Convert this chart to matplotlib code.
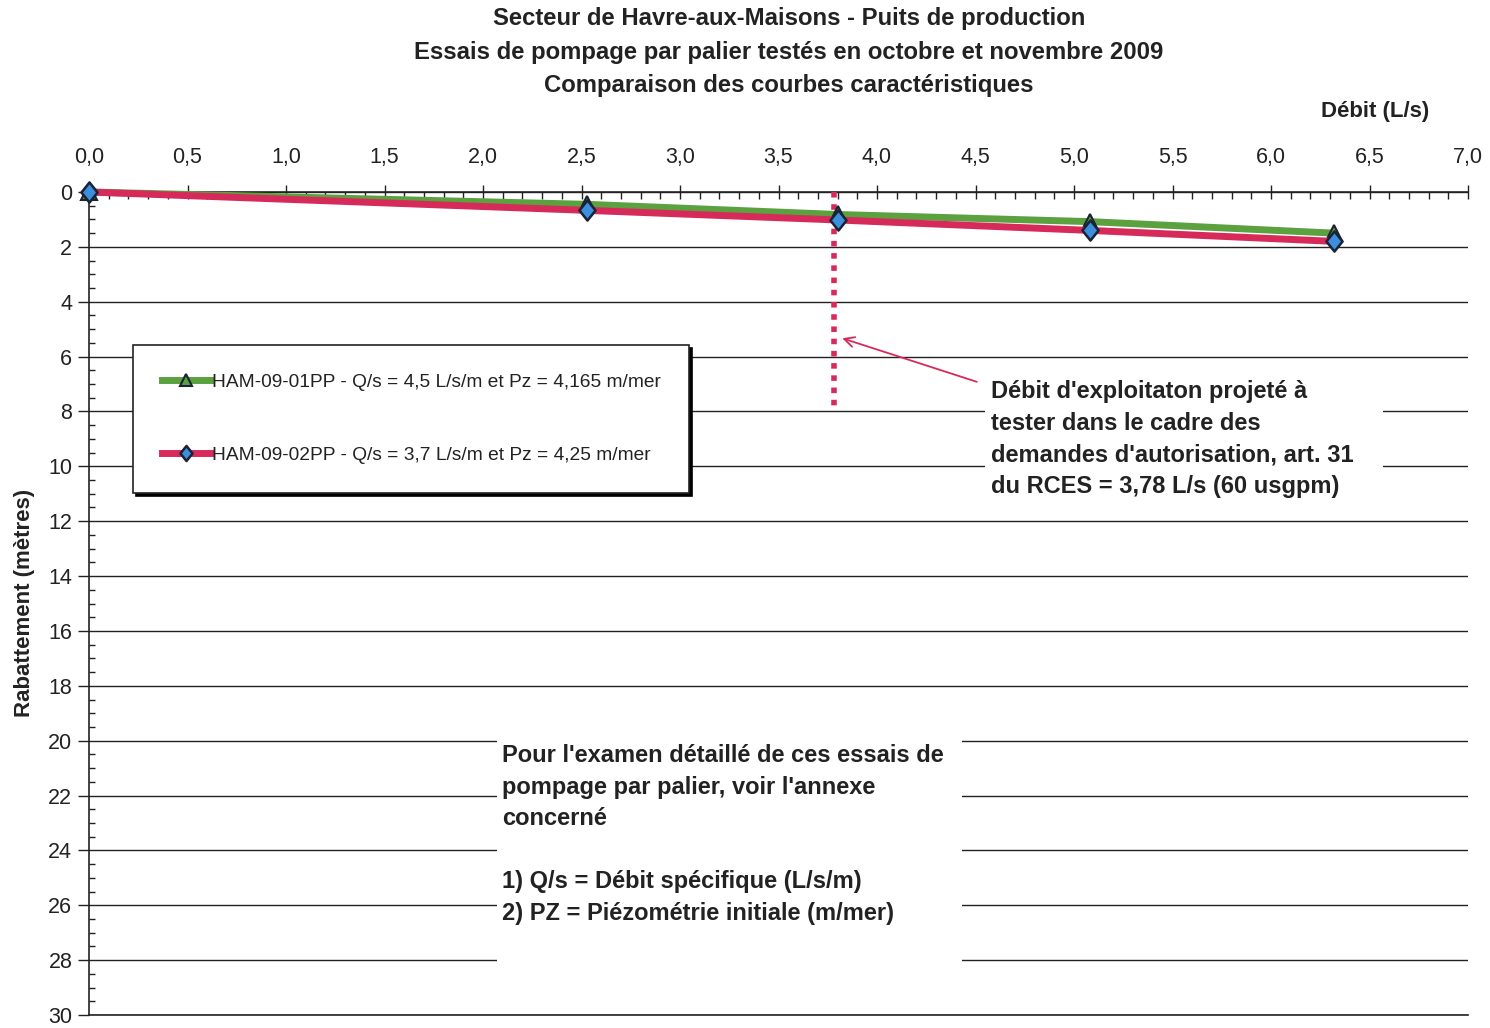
import matplotlib
matplotlib.use("Agg")
import matplotlib.pyplot as plt
from matplotlib.patches import Rectangle
from matplotlib.path import Path
from matplotlib.ticker import MultipleLocator, FuncFormatter

plt.rcParams['font.family'] = ['Liberation Sans', 'DejaVu Sans']

# Step-drawdown test results (discharge in L/s, drawdown in m)
debit_01 = [0.0, 2.53, 3.80, 5.08, 6.32]
rabattement_01 = [0.0, 0.45, 0.82, 1.08, 1.50]
debit_02 = [0.0, 2.53, 3.80, 5.08, 6.32]
rabattement_02 = [0.0, 0.67, 1.02, 1.40, 1.80]
label_01 = "HAM-09-01PP - Q/s = 4,5 L/s/m et Pz = 4,165 m/mer"
label_02 = "HAM-09-02PP - Q/s = 3,7 L/s/m et Pz = 4,25 m/mer"
debit_projete = 3.78
rabattement_repere = 8.0

titre = ("Secteur de Havre-aux-Maisons - Puits de production\n"
         "Essais de pompage par palier testés en octobre et novembre 2009\n"
         "Comparaison des courbes caractéristiques")
note_debit = ("Débit d'exploitaton projeté à\n"
              "tester dans le cadre des\n"
              "demandes d'autorisation, art. 31\n"
              "du RCES = 3,78 L/s (60 usgpm)")
note_annexe = ("Pour l'examen détaillé de ces essais de\n"
               "pompage par palier, voir l'annexe\n"
               "concerné\n"
               "\n"
               "1) Q/s = Débit spécifique (L/s/m)\n"
               "2) PZ = Piézométrie initiale (m/mer)")

GREEN = "#5ba13f"
RED = "#d62a5a"
BLUE = "#3b8fdc"
EDGE = "#1a2233"
INK = "#222222"

# Slightly tall diamond marker
losange = Path([(0, 1), (0.8, 0), (0, -1), (-0.8, 0), (0, 1)],
               [Path.MOVETO, Path.LINETO, Path.LINETO, Path.LINETO, Path.CLOSEPOLY])

W, H = 1490, 1028
fig = plt.figure(figsize=(W / 100, H / 100), dpi=100)
fig.patch.set_facecolor("white")

x0, x1, ytop, ybot = 89, 1468, 192, 1015
ax = fig.add_axes([x0 / W, (H - ybot) / H, (x1 - x0) / W, (ybot - ytop) / H])
ax.set_xlim(0, 7)
ax.set_ylim(30, 0)

# Axes: discharge along the top, drawdown downward
ax.xaxis.tick_top()
ax.xaxis.set_major_locator(MultipleLocator(0.5))
ax.xaxis.set_minor_locator(MultipleLocator(0.1))
ax.xaxis.set_major_formatter(FuncFormatter(lambda v, p: f"{v:.1f}".replace(".", ",")))
ax.yaxis.set_major_locator(MultipleLocator(2))
ax.yaxis.set_minor_locator(MultipleLocator(0.5))
ax.tick_params(axis="x", which="major", direction="inout", length=10, width=1,
               colors=INK, labelsize=15.5, pad=12)
ax.tick_params(axis="x", which="minor", direction="in", length=5, width=1, colors=INK)
ax.tick_params(axis="y", which="major", direction="out", length=8, width=1,
               colors=INK, labelsize=15.5, pad=4)
ax.tick_params(axis="y", which="minor", direction="in", length=4, width=1, colors=INK)

for side in ("right", "bottom"):
    ax.spines[side].set_visible(False)
for side in ("left", "top"):
    ax.spines[side].set_color(INK)
    ax.spines[side].set_linewidth(1.2)

ax.set_axisbelow(True)
ax.grid(axis="y", which="major", color=INK, linewidth=1.0)
ax.axhline(30, color=INK, linewidth=1.2, clip_on=False)

# Characteristic curves
ax.plot(debit_01, rabattement_01, color=GREEN, linewidth=5, marker="^",
        markersize=12, markerfacecolor=GREEN, markeredgecolor=EDGE,
        markeredgewidth=1.5, clip_on=False, zorder=4, label=label_01)
ax.plot(debit_02, rabattement_02, color=RED, linewidth=5, marker=losange,
        markersize=14.5, markerfacecolor=BLUE, markeredgecolor=EDGE,
        markeredgewidth=1.8, clip_on=False, zorder=5, label=label_02)

# Projected operating discharge
ax.plot([debit_projete, debit_projete], [0, rabattement_repere], color=RED,
        linewidth=4, linestyle=(0, (1, 1.2)), zorder=3)
ax.annotate("", xy=(debit_projete + 0.03, 5.3), xytext=(4.52, 6.95),
            arrowprops=dict(arrowstyle="->", color=RED, lw=1.3,
                            mutation_scale=18), zorder=6)

# Note boxes mask the grid behind them
ax.add_patch(Rectangle((4.55, 6.7), 2.02, 4.3, facecolor="white",
                       edgecolor="none", zorder=2))
ax.add_patch(Rectangle((2.07, 19.6), 2.36, 8.8, facecolor="white",
                       edgecolor="none", zorder=2))
ax.text(4.58, 9.0, note_debit, fontsize=17, fontweight="bold", color=INK,
        va="center", ha="left", linespacing=1.48, zorder=6)
ax.text(2.095, 23.42, note_annexe, fontsize=17, fontweight="bold", color=INK,
        va="center", ha="left", linespacing=1.48, zorder=6)

leg = ax.legend(loc="upper left",
                bbox_to_anchor=((133 - x0) / (x1 - x0), (ybot - 345) / (ybot - ytop)),
                fontsize=13.8, frameon=True, fancybox=False,
                shadow={"color": "black", "alpha": 1.0},
                borderpad=1.5, labelspacing=2.9, handlelength=2.55, handletextpad=0.05,
                borderaxespad=0, markerscale=0.75)
leg.get_frame().set_edgecolor(INK)
leg.get_frame().set_linewidth(1.2)
leg.set_zorder(7)
for t in leg.get_texts():
    t.set_color(INK)

fig.text(789 / W, 1 - 52 / H, titre, ha="center", va="center", fontsize=17.2,
         fontweight="bold", color=INK, linespacing=1.6)
fig.text(1375 / W, 1 - 111 / H, "Débit (L/s)", ha="center", va="center",
         fontsize=16, fontweight="bold", color=INK)
fig.text(25 / W, 1 - 603 / H, "Rabattement (mètres)", ha="center", va="center",
         rotation=90, fontsize=16, fontweight="bold", color=INK)

fig.savefig("out.png", dpi=100, facecolor="white")
